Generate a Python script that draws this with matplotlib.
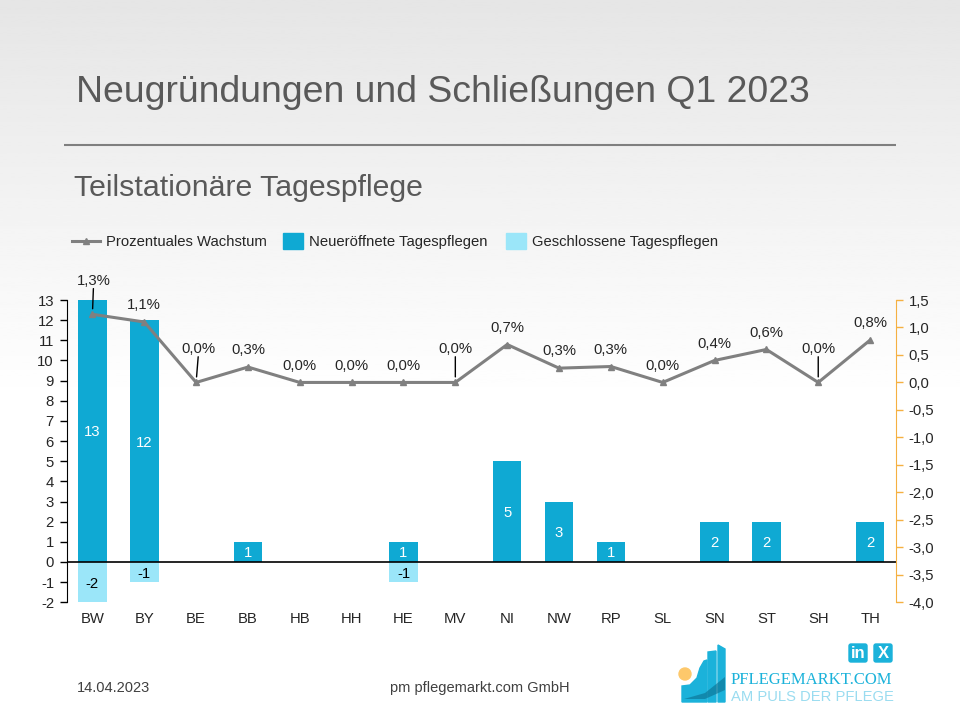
import matplotlib
matplotlib.use('Agg')
import matplotlib.pyplot as plt
from matplotlib.patches import Rectangle, Polygon, Circle, FancyBboxPatch
import numpy as np

plt.rcParams['font.family'] = ['Liberation Sans', 'DejaVu Sans']
plt.rcParams['axes.unicode_minus'] = False

laender = ['BW', 'BY', 'BE', 'BB', 'HB', 'HH', 'HE', 'MV', 'NI', 'NW', 'RP', 'SL', 'SN', 'ST', 'SH', 'TH']
neu = [13, 12, 0, 1, 0, 0, 1, 0, 5, 3, 1, 0, 2, 2, 0, 2]
geschlossen = [-2, -1, 0, 0, 0, 0, -1, 0, 0, 0, 0, 0, 0, 0, 0, 0]
wachstum = [1.24, 1.10, 0.0, 0.28, 0.0, 0.0, 0.0, 0.0, 0.69, 0.26, 0.29, 0.0, 0.40, 0.60, 0.0, 0.77]
wachstum_text = ['1,3%', '1,1%', '0,0%', '0,3%', '0,0%', '0,0%', '0,0%', '0,0%', '0,7%', '0,3%', '0,3%', '0,0%', '0,4%', '0,6%', '0,0%', '0,8%']
# Beschriftungen mit Fuehrungslinie, Wert = seitlicher Versatz in Punkt
mit_linie = {'BW': 0.7, 'BE': 1.5, 'MV': 0, 'SH': 0}

links_ticks = list(range(-2, 14))
rechts_ticks = [1.5, 1.0, 0.5, 0.0, -0.5, -1.0, -1.5, -2.0, -2.5, -3.0, -3.5, -4.0]

BLAU = '#0fa9d3'
HELLBLAU = '#9be6f9'
GRAU = '#808080'
ORANGE = '#f5b041'
TEXT = '#262626'
LOGO = '#1bb2da'
B, H = 960, 720

fig = plt.figure(figsize=(9.6, 7.2), dpi=100)

# Hintergrund mit Verlauf, Koordinaten in Pixeln
bg = fig.add_axes([0, 0, 1, 1], zorder=0)
bg.set_xlim(0, B)
bg.set_ylim(H, 0)
bg.axis('off')
verlauf = np.clip(np.linspace(0.90, 1.08, 256), 0, 1).reshape(-1, 1)
bg.imshow(verlauf, cmap='gray', vmin=0, vmax=1, extent=[0, B, H, 0], aspect='auto')

bg.text(76, 92, 'Neugründungen und Schließungen Q1 2023', fontsize=26.9, color='#595959', va='center')
bg.plot([64, 896], [145, 145], color='#7f7f7f', lw=1.5, solid_capstyle='butt')
bg.text(74, 188, 'Teilstationäre Tagespflege', fontsize=21.8, color='#595959', va='center')
bg.text(77, 688, '14.04.2023', fontsize=10.5, color='#404040', va='center')
bg.text(480, 688, 'pm pflegemarkt.com GmbH', fontsize=10.5, color='#404040', va='center', ha='center')

# Legende von Hand, die Symbole sind unterschiedlich breit
bg.plot([72, 100], [241, 241], color=GRAU, lw=2.2)
bg.plot([86], [241], color=GRAU, marker='^', ms=5)
bg.text(106, 242, 'Prozentuales Wachstum', fontsize=10.7, color=TEXT, va='center')
bg.add_patch(Rectangle((283, 233), 20, 16, color=BLAU))
bg.text(309, 242, 'Neueröffnete Tagespflegen', fontsize=10.7, color=TEXT, va='center')
bg.add_patch(Rectangle((506, 233), 20, 16, color=HELLBLAU))
bg.text(532, 242, 'Geschlossene Tagespflegen', fontsize=10.6, color=TEXT, va='center')

# Logo
bg.add_patch(Circle((685, 674), 6, color='#fdc86b', zorder=3))
bg.add_patch(Polygon([(682, 686), (690, 685), (697, 678), (700, 668), (704, 661), (707, 660), (707, 702), (682, 702)], color=LOGO, zorder=3))
bg.add_patch(Polygon([(708, 652), (716, 651), (716, 702), (708, 702)], color=LOGO, zorder=3))
bg.add_patch(Polygon([(718, 645), (725, 649), (725, 702), (718, 702)], color=LOGO, zorder=3))
bg.add_patch(Polygon([(684, 699), (705, 693), (725, 677), (725, 690), (705, 699)], color='#0b6f8f', alpha=0.6, zorder=3, lw=0))
bg.text(731, 680, 'PFLEGEMARKT.COM', fontsize=12, family='Liberation Serif', color=LOGO, va='center')
bg.text(731, 697, 'AM PULS DER PFLEGE', fontsize=10.6, color='#9adcf0', va='center')
for x0, txt in [(849, 'in'), (874, 'X')]:
    bg.add_patch(FancyBboxPatch((x0, 644), 18, 18, boxstyle='round,pad=0,rounding_size=2', color=LOGO, zorder=3))
    bg.text(x0 + 9, 653, txt, fontsize=12, fontweight='bold', color='white', ha='center', va='center', zorder=4)

# Diagramm
ax = fig.add_axes([66.5 / B, 1 - 602.3 / H, (896 - 66.5) / B, (602.3 - 300) / H], zorder=2)
ax.patch.set_alpha(0)
x = np.arange(len(laender))
ax.bar(x, neu, width=0.55, color=BLAU)
ax.bar(x, geschlossen, width=0.55, color=HELLBLAU)
ax.set_xlim(-0.5, len(laender) - 0.5)
ax.set_ylim(-2, 13)
ax.set_yticks(links_ticks)
ax.set_xticks(x, laender)
ax.axhline(0, color='black', lw=1.2, zorder=3)
ax.tick_params(axis='y', labelsize=10.7, labelcolor=TEXT, length=5, width=1, pad=4)
ax.tick_params(axis='x', length=0, labelsize=10.7, labelcolor=TEXT, pad=7)
for s in ['top', 'right', 'bottom']:
    ax.spines[s].set_visible(False)

for i in x:
    if neu[i] != 0:
        ax.text(i, neu[i] / 2, str(neu[i]), color='white', fontsize=10.7, ha='center', va='center_baseline')
    if geschlossen[i] != 0:
        ax.text(i, geschlossen[i] / 2, str(geschlossen[i]), color='black', fontsize=10.7, ha='center', va='center_baseline')

ax2 = ax.twinx()
ax2.patch.set_alpha(0)
ax2.plot(x, wachstum, color=GRAU, lw=2.2, marker='^', ms=5, zorder=4)
ax2.set_ylim(-4, 1.5)
ax2.set_yticks(rechts_ticks, [f'{w:.1f}'.replace('.', ',') for w in rechts_ticks])
ax2.tick_params(axis='y', labelsize=10.7, labelcolor=TEXT, color=ORANGE, length=5, width=1, pad=4)
for s in ['top', 'left', 'bottom']:
    ax2.spines[s].set_visible(False)
ax2.spines['right'].set_color(ORANGE)

for i in x:
    if laender[i] in mit_linie:
        dx = mit_linie[laender[i]]
        ax2.annotate(wachstum_text[i], (i, wachstum[i]), xytext=(dx, 19), textcoords='offset points',
                     ha='center', va='bottom', fontsize=10.7, color=TEXT, annotation_clip=False)
        ax2.annotate('', (i, wachstum[i]), xytext=(dx, 18.5), textcoords='offset points', annotation_clip=False,
                     arrowprops=dict(arrowstyle='-', color='black', lw=1, shrinkA=0, shrinkB=4))
    else:
        ax2.annotate(wachstum_text[i], (i, wachstum[i]), xytext=(0, 7), textcoords='offset points',
                     ha='center', va='bottom', fontsize=10.7, color=TEXT, annotation_clip=False)

fig.savefig('out.png', dpi=100)
